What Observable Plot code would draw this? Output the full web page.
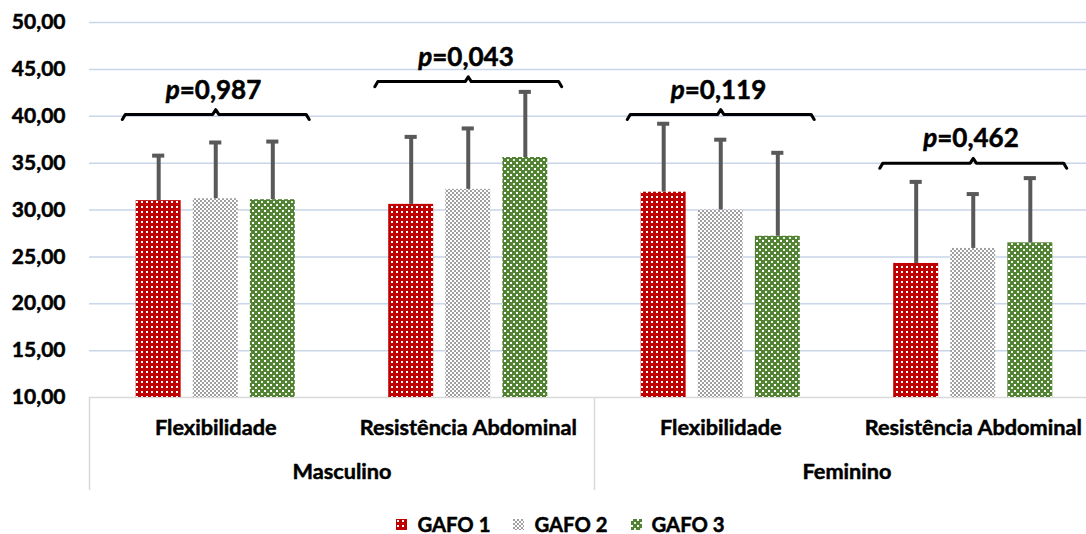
<!DOCTYPE html>
<html>
<head>
<meta charset="utf-8">
<script src="https://cdn.jsdelivr.net/npm/d3@7"></script>
<script src="https://cdn.jsdelivr.net/npm/@observablehq/plot@0.6"></script>
<style>
  html, body { margin: 0; padding: 0; background: #fff; }
  body { width: 1086px; height: 534px; overflow: hidden; font-family: Lato, "Open Sans", sans-serif; }
  #legend { display: flex; justify-content: center; align-items: center; gap: 23px; margin-top: 12px; height: 24px;
            font-weight: bold; font-size: 20.3px; color: #000; padding-left: 35px; -webkit-text-stroke: 0.5px #000; }
  #legend span.item { display: flex; align-items: center; gap: 10px; }
  #legend svg { display: block; }
</style>
</head>
<body>
<svg width="0" height="0" style="position:absolute">
  <defs>
    <pattern id="patG1" width="5" height="5" patternUnits="userSpaceOnUse">
      <rect width="5" height="5" fill="#c00000"></rect>
      <rect x="1" y="1" width="2" height="2" fill="#ffffff"></rect>
    </pattern>
    <pattern id="patG2" width="4" height="4" patternUnits="userSpaceOnUse">
      <rect width="4" height="4" fill="#ffffff"></rect>
      <rect x="0" y="0" width="2" height="2" fill="#a0a0a0"></rect>
      <rect x="2" y="2" width="2" height="2" fill="#a0a0a0"></rect>
    </pattern>
    <pattern id="patG3" width="6" height="6" patternUnits="userSpaceOnUse">
      <rect width="6" height="6" fill="#548235"></rect>
      <rect x="0" y="0" width="2" height="2" fill="#ffffff"></rect>
      <rect x="3" y="3" width="2" height="2" fill="#e6eedf"></rect>
    </pattern>
  </defs>
</svg>
<div id="chart"></div>
<div id="legend"></div>
<script>
// ---- data ----
const categories = ["Flexibilidade", "Resistência Abdominal", "Flexibilidade", "Resistência Abdominal"];
const sexes = ["Masculino", "Feminino"];
const groups = ["GAFO 1", "GAFO 2", "GAFO 3"];
const gafo1Mean = [31.0, 30.6, 31.9, 24.3];
const gafo2Mean = [31.2, 32.2, 30.0, 25.9];
const gafo3Mean = [31.1, 35.6, 27.2, 26.5];
const gafo1Sd = [4.8, 7.2, 7.3, 8.7];
const gafo2Sd = [6.0, 6.5, 7.5, 5.8];
const gafo3Sd = [6.2, 7.0, 8.9, 6.9];
const pValues = ["0,987", "0,043", "0,119", "0,462"];
const yTicks = [10, 15, 20, 25, 30, 35, 40, 45, 50];

// ---- layout (annotation levels, not data) ----
const bracketLevel = [40.2, 43.7, 40.2, 35.0];
const barStep = 0.226, barHalf = 0.089, capHalf = 0.024, bracketHalf = 0.37;
const colors = ["url(#patG1)", "url(#patG2)", "url(#patG3)"];

const means = [gafo1Mean, gafo2Mean, gafo3Mean];
const sds = [gafo1Sd, gafo2Sd, gafo3Sd];
const rows = [];
categories.forEach((c, i) => {
  groups.forEach((g, gi) => {
    const cx = i + 0.5 + (gi - 1) * barStep;
    rows.push({cat: c, g, cx, x1: cx - barHalf, x2: cx + barHalf, mean: means[gi][i], top: means[gi][i] + sds[gi][i]});
  });
});
const brackets = [];
categories.forEach((c, i) => {
  const cx = i + 0.5, y = bracketLevel[i];
  const pts = [[cx - bracketHalf, y - 0.55], [cx - bracketHalf + 0.012, y], [cx - 0.012, y], [cx, y + 0.5],
               [cx + 0.012, y], [cx + bracketHalf - 0.012, y], [cx + bracketHalf, y - 0.55]];
  pts.forEach(([x, yy]) => brackets.push({id: i, x, y: yy}));
});
const labels = categories.map((c, i) => ({cat: c, x: i + 0.5, p: pValues[i], y: bracketLevel[i]}));
const sexLabels = sexes.map((s, i) => ({s, x: 2 * i + 1}));

const fmt = d3.formatLocale({decimal: ",", thousands: ".", grouping: [3], currency: ["R$", ""]}).format(".2f");
const W = 1086, ML = 89, unit = 252.5;
const txt = {fill: "#000", stroke: "#000", strokeWidth: 0.5, fontWeight: "bold", fontFamily: "Lato, 'Open Sans', sans-serif"};

const chart = Plot.plot({
  width: W, height: 500,
  marginLeft: ML, marginRight: 0, marginTop: 22, marginBottom: 103,
  style: {fontFamily: "Lato, 'Open Sans', sans-serif", fontWeight: "bold", color: "#000", overflow: "visible"},
  x: {domain: [0, (W - ML) / unit], axis: null},
  y: {domain: [10, 50], axis: null},
  color: {domain: groups, range: colors},
  marks: [
    Plot.ruleY(yTicks.filter(d => d > 10), {stroke: "#c9d5e8", strokeWidth: 1.5}),
    Plot.ruleY([10], {stroke: "#d9d9d9", strokeWidth: 1.5}),
    Plot.ruleX([0, 2, 4], {y1: 10, y2: 10, insetBottom: -93, stroke: "#d9d9d9", strokeWidth: 1.5}),
    Plot.text(yTicks, {x: 0, y: d => d, text: d => fmt(d), textAnchor: "end", dx: -24, fontSize: 21, ...txt}),
    Plot.rectY(rows, {x1: "x1", x2: "x2", y1: 10, y2: "mean", fill: "g"}),
    Plot.ruleX(rows, {x: "cx", y1: "mean", y2: "top", stroke: "#595959", strokeWidth: 4}),
    Plot.ruleY(rows, {y: "top", x1: d => d.cx - capHalf, x2: d => d.cx + capHalf, stroke: "#595959", strokeWidth: 4}),
    Plot.line(brackets, {x: "x", y: "y", z: "id", stroke: "#000", strokeWidth: 3, strokeLinejoin: "round", strokeLinecap: "round", curve: "linear"}),
    Plot.text(labels, {x: "x", y: "y", text: () => "p", textAnchor: "end", dx: -36, dy: -24, fontSize: 26, fontStyle: "italic", ...txt}),
    Plot.text(labels, {x: "x", y: "y", text: d => "=" + d.p, textAnchor: "start", dx: -36, dy: -24, fontSize: 26, ...txt}),
    Plot.text(labels, {x: "x", y: 10, text: "cat", dy: 31, fontSize: 21.7, ...txt}),
    Plot.text(sexLabels, {x: "x", y: 10, text: "s", dy: 75, fontSize: 21.7, ...txt})
  ]
});
document.getElementById("chart").appendChild(chart);

const legend = document.getElementById("legend");
groups.forEach((g, gi) => {
  const item = document.createElement("span");
  item.className = "item";
  item.innerHTML = `<svg width="11" height="11"><rect width="11" height="11" fill="${colors[gi]}"></rect></svg><span>${g}</span>`;
  legend.appendChild(item);
});
</script>
</body>
</html>
